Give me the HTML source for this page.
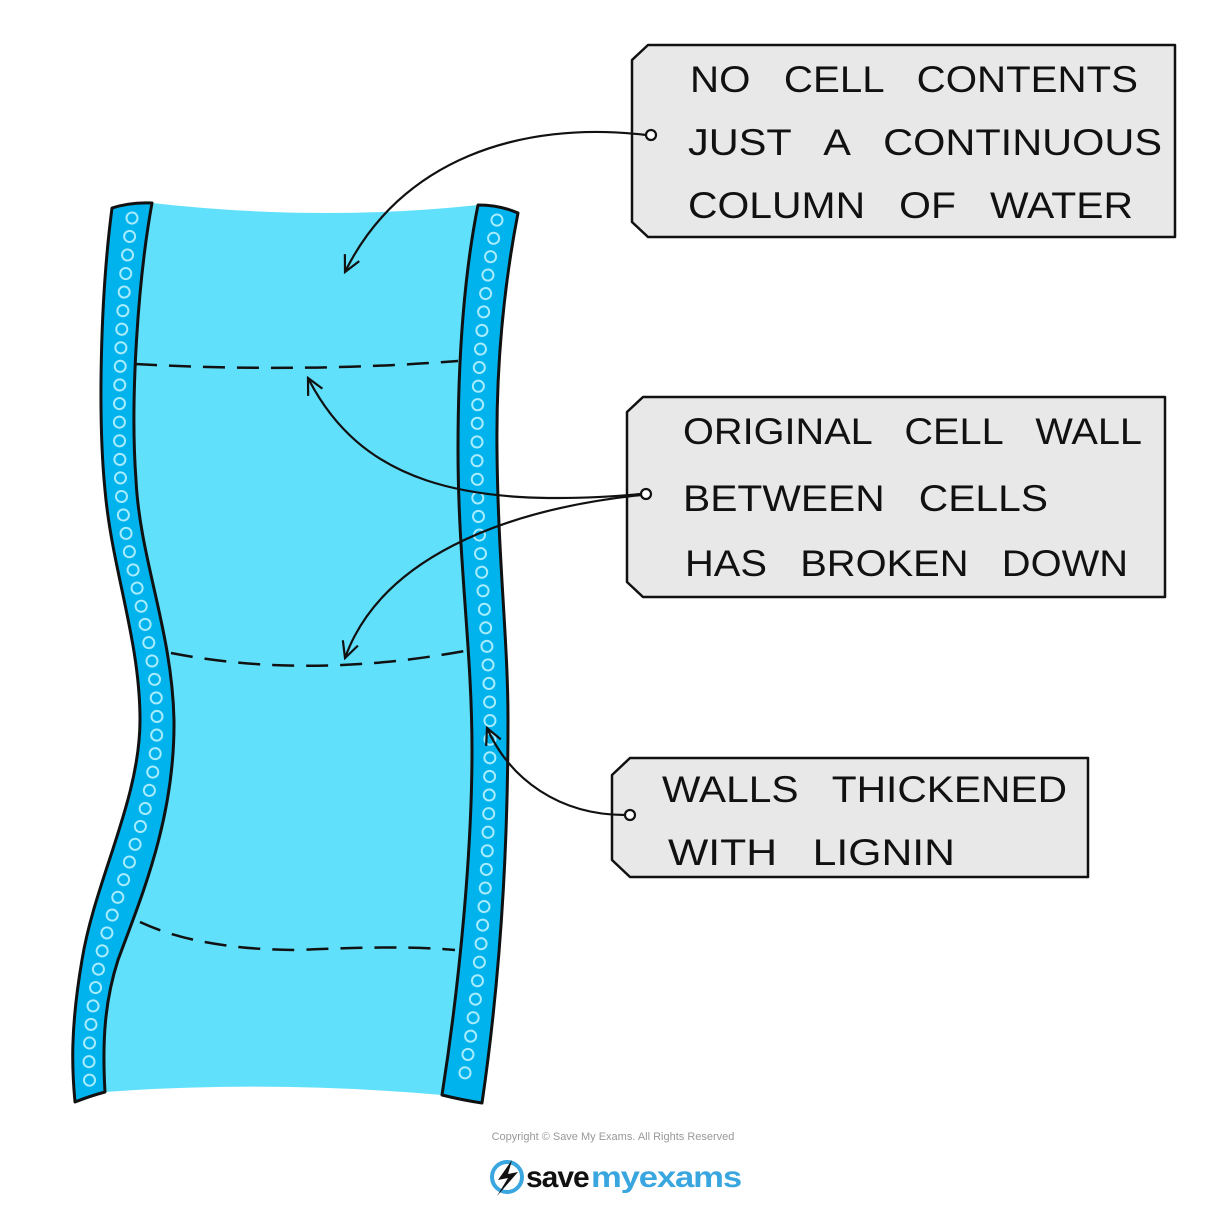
<!DOCTYPE html>
<html><head><meta charset="utf-8"><style>
html,body{margin:0;padding:0;background:#fff;}
svg{display:block;}
text{font-family:"Liberation Sans",sans-serif;white-space:pre;}
</style></head><body>
<svg width="1226" height="1217" viewBox="0 0 1226 1217" xmlns="http://www.w3.org/2000/svg">
<defs>
<marker id="ah" viewBox="0 0 20 20" refX="18" refY="10" markerWidth="20" markerHeight="20" markerUnits="userSpaceOnUse" orient="auto">
<path d="M2,2 L18,10 L2,18" fill="none" stroke="#111" stroke-width="2.2"/>
</marker>
</defs>

<!-- water -->
<path d="M152,203 Q320,222 478,205 C465,270 458,350 458,450 C458,560 472,650 472,750 C472,850 460,980 442,1095 Q270,1080 105,1092 C102,1040 105,1000 118,960 C140,900 175,820 174,720 C172,630 140,560 136,480 C130,400 138,280 152,203 Z" fill="#61e0fb"/>

<!-- left wall -->
<path d="M112,208 Q131,202 152,203 C138,280 130,400 136,480 C140,560 172,630 174,720 C175,820 140,900 118,960 C105,1000 102,1040 105,1092 Q90,1096 75,1102 C72,1070 70,1030 82,960 C95,880 140,800 140,720 C140,640 112,570 105,490 C98,420 100,300 112,208 Z" fill="#00b3ec" stroke="#111" stroke-width="3" stroke-linejoin="round"/>
<path id="lc" d="M132,218 C118,320 118,430 121,490 C126,570 157,640 157,720 C157,810 118,880 100,960 C88,1030 88,1060 90,1088" fill="none" stroke="#a8ecff" stroke-width="13" stroke-linecap="round" stroke-dasharray="0.1 18.5"/>
<path d="M132,218 C118,320 118,430 121,490 C126,570 157,640 157,720 C157,810 118,880 100,960 C88,1030 88,1060 90,1088" fill="none" stroke="#00b3ec" stroke-width="9" stroke-linecap="round" stroke-dasharray="0.1 18.5"/>

<!-- right wall -->
<path d="M478,205 Q500,205 518,213 C505,280 496,360 497,450 C498,560 508,640 508,720 C508,850 500,980 482,1103 Q462,1100 442,1095 C460,980 472,850 472,750 C472,650 458,560 458,450 C458,350 465,270 478,205 Z" fill="#00b3ec" stroke="#111" stroke-width="3" stroke-linejoin="round"/>
<path d="M497,220 C485,280 477,360 477,450 C477,560 490,640 490,730 C490,850 482,980 462,1090" fill="none" stroke="#a8ecff" stroke-width="13" stroke-linecap="round" stroke-dasharray="0.1 18.5"/>
<path d="M497,220 C485,280 477,360 477,450 C477,560 490,640 490,730 C490,850 482,980 462,1090" fill="none" stroke="#00b3ec" stroke-width="9" stroke-linecap="round" stroke-dasharray="0.1 18.5"/>

<!-- dashed lines -->
<g fill="none" stroke="#111" stroke-width="2.5" stroke-dasharray="22,12">
<path d="M135,364 Q300,373 458,361"/>
<path d="M171,653 Q310,680 470,650"/>
<path d="M140,922 Q200,950 300,950 Q400,945 455,950"/>
</g>

<!-- boxes -->
<g fill="#e8e8e8" stroke="#111" stroke-width="2.5" stroke-linejoin="round">
<path d="M648,45 L1175,45 L1175,237 L648,237 L632,222 L632,60 Z"/>
<path d="M643,397 L1165,397 L1165,597 L643,597 L627,582 L627,412 Z"/>
<path d="M630,758 L1088,758 L1088,877 L630,877 L612,860 L612,775 Z"/>
</g>
<g fill="#fff" stroke="#111" stroke-width="2.2">
<circle cx="651" cy="135" r="5"/>
<circle cx="646" cy="494" r="5"/>
<circle cx="630" cy="815" r="5"/>
</g>

<!-- arrows -->
<g fill="none" stroke="#111" stroke-width="2.2" marker-end="url(#ah)">
<path d="M646,135 C520,120 400,160 345,272"/>
<path d="M641,494 C460,510 360,480 308,378"/>
<path d="M641,495 C500,510 380,560 345,658"/>
<path d="M625,815 C560,815 510,780 487,728"/>
</g>

<!-- text -->
<g font-size="37" fill="#111">
<text x="690" y="92" textLength="448" lengthAdjust="spacingAndGlyphs">NO   CELL   CONTENTS</text>
<text x="688" y="155" textLength="474" lengthAdjust="spacingAndGlyphs">JUST   A   CONTINUOUS</text>
<text x="688" y="218" textLength="445" lengthAdjust="spacingAndGlyphs">COLUMN   OF   WATER</text>
<text x="683" y="444" textLength="459" lengthAdjust="spacingAndGlyphs">ORIGINAL   CELL   WALL</text>
<text x="683" y="511" textLength="365" lengthAdjust="spacingAndGlyphs">BETWEEN   CELLS</text>
<text x="685" y="576" textLength="443" lengthAdjust="spacingAndGlyphs">HAS   BROKEN   DOWN</text>
<text x="662" y="802" textLength="405" lengthAdjust="spacingAndGlyphs">WALLS   THICKENED</text>
<text x="668" y="865" textLength="287" lengthAdjust="spacingAndGlyphs">WITH   LIGNIN</text>
</g>

<!-- footer -->
<text x="613" y="1140" font-size="11" fill="#999" text-anchor="middle">Copyright © Save My Exams. All Rights Reserved</text>
<circle cx="507" cy="1177" r="15" fill="none" stroke="#3aa6e0" stroke-width="4"/>
<path d="M512,1160 L498,1180 L508,1178 L497,1196 L518,1172 L508,1174 Z" fill="#111"/>
<text x="526" y="1187" font-size="30" font-weight="bold" fill="#111" letter-spacing="-1">save</text>
<text x="591" y="1187" font-size="30" font-weight="bold" fill="#3aa6e0" letter-spacing="-1" textLength="150" lengthAdjust="spacingAndGlyphs">myexams</text>
</svg>
</body></html>
